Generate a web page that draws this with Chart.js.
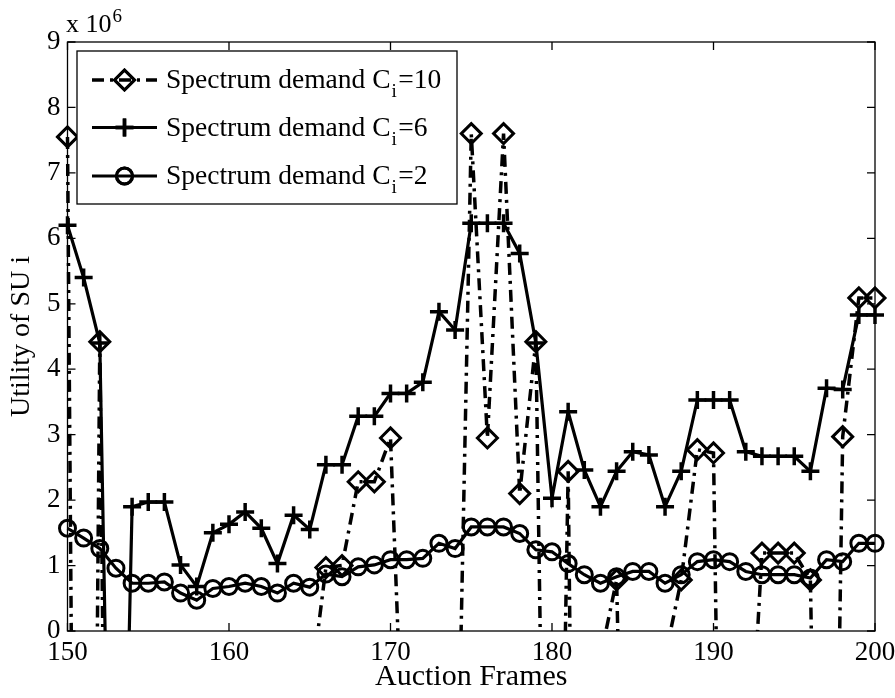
<!DOCTYPE html>
<html>
<head>
<meta charset="utf-8">
<script src="https://cdn.jsdelivr.net/npm/chart.js@4.4.1/dist/chart.umd.min.js"></script>
<style>
    html, body { margin: 0; padding: 0; background: #fff; }
    #wrap { width: 895px; height: 698px; }
</style>
</head>
<body>
<div id="wrap"><canvas id="utilityChart" width="895" height="698"></canvas></div>
<script>
// ====== Data (utility in units of 10^6; values below 0 run off the axis) ======
const frames = [150, 151, 152, 153, 154, 155, 156, 157, 158, 159,
                160, 161, 162, 163, 164, 165, 166, 167, 168, 169,
                170, 171, 172, 173, 174, 175, 176, 177, 178, 179,
                180, 181, 182, 183, 184, 185, 186, 187, 188, 189,
                190, 191, 192, 193, 194, 195, 196, 197, 198, 199, 200];

const demand10 = [7.55, -25, 4.42, -20, -20, -20, -20, -20, -20, -20,
                  -20, -20, -20, -20, -20, -1.0, 0.97, 1.0, 2.28, 2.28,
                  2.95, -3.5, -10, -10, -4.5, 7.6, 2.95, 7.6, 2.1, 4.42,
                  -12, 2.44, -20, -0.4, 0.78, -10, -10, -0.4, 0.78, 2.77,
                  2.72, -14, -3.2, 1.19, 1.19, 1.19, 0.78, -13, 2.97, 5.09, 5.09];

const demand6 = [6.2, 5.4, 4.4, -9, 1.9, 1.97, 1.97, 1.01, 0.68, 1.5,
                 1.63, 1.82, 1.57, 1.03, 1.77, 1.55, 2.54, 2.54, 3.28, 3.28,
                 3.63, 3.63, 3.8, 4.88, 4.6, 6.23, 6.23, 6.23, 5.77, 4.4,
                 2.03, 3.35, 2.46, 1.9, 2.44, 2.74, 2.69, 1.9, 2.44, 3.53,
                 3.53, 3.53, 2.74, 2.67, 2.67, 2.67, 2.44, 3.71, 3.69, 4.83, 4.83];

const demand2 = [1.57, 1.42, 1.26, 0.96, 0.73, 0.73, 0.75, 0.58, 0.47, 0.65,
                 0.68, 0.73, 0.68, 0.58, 0.73, 0.67, 0.87, 0.83, 0.98, 1.01,
                 1.09, 1.09, 1.11, 1.34, 1.26, 1.59, 1.59, 1.59, 1.49, 1.24,
                 1.21, 1.03, 0.86, 0.73, 0.83, 0.91, 0.91, 0.73, 0.86, 1.06,
                 1.09, 1.06, 0.91, 0.86, 0.86, 0.86, 0.81, 1.09, 1.06, 1.34, 1.34];

const xTicks = [150, 160, 170, 180, 190, 200];
const yTicks = [0, 1, 2, 3, 4, 5, 6, 7, 8, 9];
const legendNames = ['10', '6', '2'];

const SERIF = "'Liberation Serif', 'Times New Roman', serif";
const DASHDOT = [12, 6, 3, 6];

const toXY = vals => vals.map((v, i) => ({ x: frames[i], y: v }));

// ====== Frame, inward ticks, exponent label, legend ======
const matlabDecor = {
    id: 'matlabDecor',
    afterDraw(chart) {
        const { ctx, chartArea: a, scales } = chart;
        const xs = scales.x, ys = scales.y;
        ctx.save();
        ctx.strokeStyle = '#000';
        ctx.lineWidth = 1.3;
        ctx.setLineDash([]);
        ctx.strokeRect(a.left, a.top, a.right - a.left, a.bottom - a.top);

        const tl = 8;
        ctx.beginPath();
        xTicks.forEach(t => {
            const px = xs.getPixelForValue(t);
            ctx.moveTo(px, a.bottom); ctx.lineTo(px, a.bottom - tl);
            ctx.moveTo(px, a.top); ctx.lineTo(px, a.top + tl);
        });
        yTicks.forEach(t => {
            const py = ys.getPixelForValue(t);
            ctx.moveTo(a.left, py); ctx.lineTo(a.left + tl, py);
            ctx.moveTo(a.right, py); ctx.lineTo(a.right - tl, py);
        });
        ctx.stroke();

        // x 10^6
        ctx.fillStyle = '#000';
        ctx.textBaseline = 'alphabetic';
        ctx.textAlign = 'left';
        ctx.font = '26px ' + SERIF;
        ctx.fillText('x 10', 66, 32);
        const w10 = ctx.measureText('x 10').width;
        ctx.font = '19px ' + SERIF;
        ctx.fillText('6', 66 + w10 + 1, 22);

        // legend
        const box = { x: 77, y: 51, w: 380, h: 153 };
        ctx.fillStyle = '#fff';
        ctx.fillRect(box.x, box.y, box.w, box.h);
        ctx.lineWidth = 1.3;
        ctx.strokeRect(box.x, box.y, box.w, box.h);

        const rows = [80, 127.5, 176];
        chart.data.datasets.forEach((ds, i) => {
            const cy = rows[i];
            ctx.save();
            ctx.lineWidth = ds.borderWidth;
            ctx.setLineDash(ds.borderDash || []);
            ctx.beginPath();
            ctx.moveTo(92, cy); ctx.lineTo(157, cy);
            ctx.stroke();
            ctx.restore();
            ctx.save();
            ctx.lineWidth = ds.pointBorderWidth;
            ctx.strokeStyle = '#000';
            ctx.fillStyle = 'rgba(0,0,0,0)';
            Chart.helpers.drawPoint(ctx, { pointStyle: ds.pointStyle, radius: ds.pointRadius, rotation: 0, borderWidth: ds.pointBorderWidth }, 124.5, cy);
            ctx.stroke();
            ctx.restore();

            const base = cy + 8;
            ctx.fillStyle = '#000';
            ctx.font = '27.5px ' + SERIF;
            const main = 'Spectrum demand C';
            ctx.fillText(main, 166, base);
            let x = 166 + ctx.measureText(main).width + 1;
            ctx.font = '19px ' + SERIF;
            ctx.fillText('i', x, base + 9);
            x += ctx.measureText('i').width + 1.5;
            ctx.font = '27.5px ' + SERIF;
            ctx.fillText('=' + legendNames[i], x, base);
        });
        ctx.restore();
    }
};

// ====== Chart ======
const common = {
    borderColor: '#000',
    pointBorderColor: '#000',
    pointBackgroundColor: 'rgba(0,0,0,0)',
    pointHoverRadius: 0,
    clip: { left: 14, top: 14, right: 14, bottom: 0 }
};

new Chart(document.getElementById('utilityChart'), {
    type: 'line',
    data: {
        datasets: [
            Object.assign({
                label: 'Spectrum demand Ci=10',
                data: toXY(demand10),
                borderWidth: 3.5,
                borderDash: DASHDOT,
                pointStyle: 'rectRot',
                pointRadius: 10,
                pointBorderWidth: 3,
                order: 3
            }, common),
            Object.assign({
                label: 'Spectrum demand Ci=6',
                data: toXY(demand6),
                borderWidth: 3.2,
                pointStyle: 'cross',
                pointRadius: 9,
                pointBorderWidth: 3.5,
                order: 2
            }, common),
            Object.assign({
                label: 'Spectrum demand Ci=2',
                data: toXY(demand2),
                borderWidth: 3.2,
                pointStyle: 'circle',
                pointRadius: 8,
                pointBorderWidth: 3,
                order: 1
            }, common)
        ]
    },
    options: {
        responsive: false,
        animation: false,
        events: [],
        layout: { padding: { top: 42, right: 20, left: 0, bottom: 0 } },
        plugins: {
            legend: { display: false },
            tooltip: { enabled: false }
        },
        scales: {
            x: {
                type: 'linear',
                min: 150,
                max: 200,
                afterFit: s => { s.height = 67; s.paddingLeft = 0; s.paddingRight = 0; },
                afterBuildTicks: s => { s.ticks = xTicks.map(v => ({ value: v })); },
                grid: { display: false, drawTicks: false },
                border: { display: false },
                ticks: {
                    color: '#000',
                    padding: 6,
                    maxRotation: 0,
                    autoSkip: false,
                    font: { family: SERIF, size: 27 }
                },
                title: {
                    display: true,
                    text: 'Auction Frames',
                    color: '#000',
                    font: { family: SERIF, size: 30 },
                    padding: { top: 3, bottom: 3 }
                }
            },
            y: {
                min: 0,
                max: 9,
                afterFit: s => { s.width = 67.5; },
                afterBuildTicks: s => { s.ticks = yTicks.map(v => ({ value: v })); },
                grid: { display: false, drawTicks: false },
                border: { display: false },
                ticks: {
                    color: '#000',
                    padding: 7,
                    font: { family: SERIF, size: 27 }
                },
                title: {
                    display: true,
                    text: 'Utility of SU i',
                    color: '#000',
                    font: { family: SERIF, size: 28 },
                    padding: { top: 5, bottom: 5 }
                }
            }
        }
    },
    plugins: [matlabDecor]
});
</script>
</body>
</html>
